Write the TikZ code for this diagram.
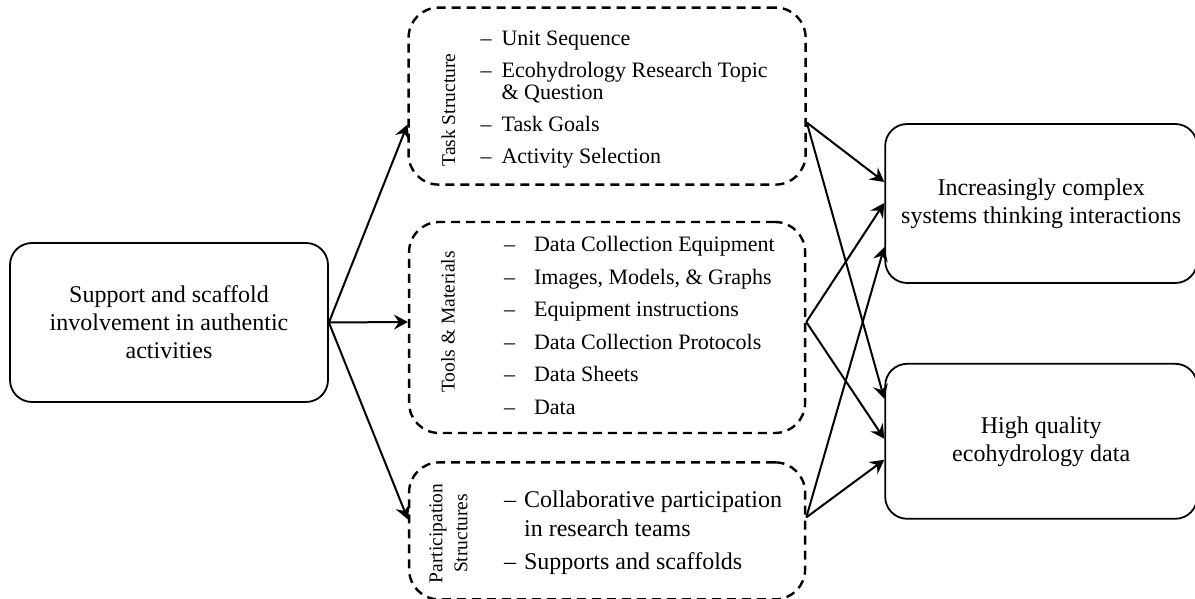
\documentclass[tikz,border=0pt]{standalone}
\usepackage{fontspec}
\setmainfont{Liberation Serif}
\usetikzlibrary{positioning}
\usetikzlibrary{arrows.meta}

\begin{document}
\begin{tikzpicture}[x=1pt, y=1pt, node distance=79pt,
    mainbox/.style={draw, line width=1.8pt, rounded corners=22pt, align=center,
                    inner sep=0pt, font=\fontsize{24}{28}\selectfont},
    groupbox/.style={draw, line width=2.4pt, dash pattern=on 9pt off 6pt,
                     rounded corners=30pt, inner sep=0pt},
    grouplabel/.style={rotate=90, align=center, inner sep=0pt,
                       font=\fontsize{19.5}{25}\selectfont},
    itemlist/.style={anchor=base west, inner sep=0pt},
    arrow/.style={-{Stealth[length=14pt,width=15pt,inset=5pt]}, line width=2pt}]
  \useasboundingbox (0,0) rectangle (1195,599);
  % left box and the three groups
  \node[mainbox, minimum width=318pt, minimum height=159pt] (support) at (169,276.5)
       {Support and scaffold\\involvement in authentic\\activities};
  \node[groupbox, minimum width=396pt, minimum height=211pt] (tools)
       [right=79pt of support, yshift=-5pt] {};
  \node[groupbox, minimum width=397pt, minimum height=177pt] (task) [above=35pt of tools] {};
  \node[groupbox, minimum width=396pt, minimum height=137pt] (part) [below=27pt of tools] {};
  % outcomes
  \node[mainbox, minimum width=312pt, minimum height=159pt] (complex)
       [right=78pt of tools, yshift=124pt] {Increasingly complex\\systems thinking interactions};
  \node[mainbox, minimum width=312pt, minimum height=155pt] (data)
       [below=79pt of complex] {High quality\\ecohydrology data};
  % group contents
  \node[grouplabel] (tasklbl) at ([xshift=41pt,yshift=-14pt]task.west) {Task Structure};
  \node[grouplabel] (toolslbl) at ([xshift=40pt,yshift=5.5pt]tools.west) {Tools \& Materials};
  \node[grouplabel] (partlbl) at ([xshift=40.5pt,yshift=-2.5pt]part.west) {Participation\\Structures};
  \node[itemlist, font=\fontsize{22}{32}\selectfont] (tasklist)
       at ([xshift=73pt,yshift=-39pt]task.north west)
       {\begin{tabular}[t]{@{}l@{\hspace{10pt}}l@{}}
        -- & Unit Sequence\\
        -- & Ecohydrology Research Topic\\[-10pt]
           & \& Question\\
        -- & Task Goals\\
        -- & Activity Selection
        \end{tabular}};
  \node[itemlist, font=\fontsize{22}{32.5}\selectfont] (toolslist)
       at ([xshift=96pt,yshift=-31pt]tools.north west)
       {\begin{tabular}[t]{@{}l@{\hspace{19pt}}l@{}}
        -- & Data Collection Equipment\\
        -- & Images, Models, \& Graphs\\
        -- & Equipment instructions\\
        -- & Data Collection Protocols\\
        -- & Data Sheets\\
        -- & Data
        \end{tabular}};
  \node[itemlist, font=\fontsize{24}{33}\selectfont] (partlist)
       at ([xshift=96pt,yshift=-46pt]part.north west)
       {\begin{tabular}[t]{@{}l@{\hspace{8pt}}l@{}}
        -- & Collaborative participation\\[-4pt]
           & in research teams\\
        -- & Supports and scaffolds
        \end{tabular}};
  % connectors
  \path[arrow] (support.east) edge ([yshift=-28.5pt]task.west)
                              edge ([yshift=5.5pt]tools.west)
                              edge ([yshift=11.5pt]part.west)
               ([yshift=-26.5pt]task.east) edge ([yshift=21.5pt]complex.west)
                                           edge ([yshift=42.5pt]data.west)
               ([yshift=5.5pt]tools.east) edge ([yshift=0.5pt]complex.west)
                                          edge ([yshift=2.5pt]data.west)
               ([yshift=13.5pt]part.east) edge ([yshift=-43.5pt]complex.west)
                                          edge ([yshift=-18.5pt]data.west);
\end{tikzpicture}
\end{document}
